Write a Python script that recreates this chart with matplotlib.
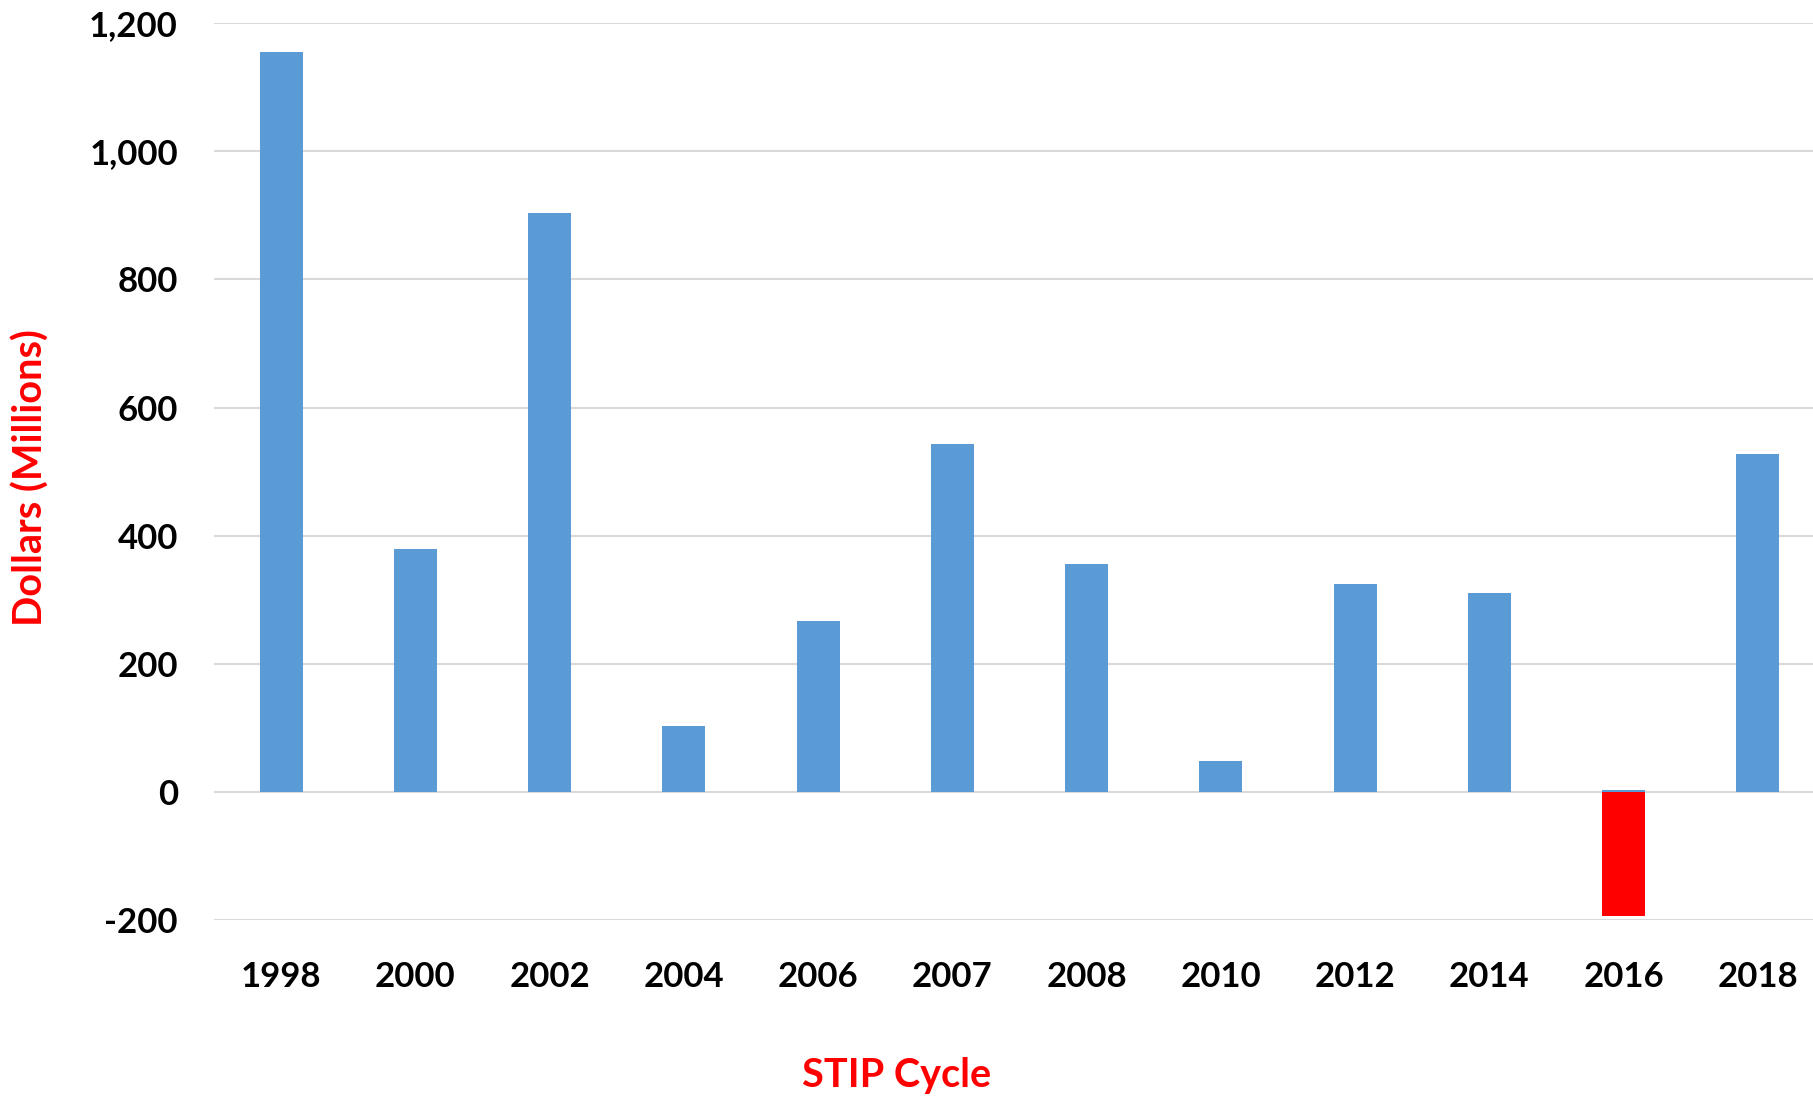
import numpy as np
import matplotlib.pyplot as plt
from matplotlib.ticker import FuncFormatter

# STIP cycle values, millions of dollars
cycles = ['1998', '2000', '2002', '2004', '2006', '2007',
          '2008', '2010', '2012', '2014', '2016', '2018']
positive = [1155, 379, 904, 103, 267, 543, 356, 49, 325, 310, 3, 527]
negative = [0, 0, 0, 0, 0, 0, 0, 0, 0, 0, -193, 0]

plt.rcParams['font.family'] = ['Lato', 'DejaVu Sans']

fig = plt.figure(figsize=(18.13, 10.97), dpi=100)
ax = fig.add_axes([214 / 1813, 0.161, (1825 - 214) / 1813, 0.979 - 0.161])

x = np.arange(len(cycles))
ax.bar(x, positive, width=0.32, color='#5B9BD5', zorder=3)
neg_mask = np.array(negative) < 0
ax.bar(x[neg_mask], np.array(negative)[neg_mask], width=0.32, color='#FF0000', zorder=3)

ax.set_xlim(-0.5, len(cycles) - 0.5)
ax.set_ylim(-200, 1200)
ax.set_yticks(range(-200, 1201, 200))
ax.yaxis.set_major_formatter(FuncFormatter(lambda v, p: f'{int(v):,}'))
ax.set_xticks(x)
ax.set_xticklabels(cycles)

ax.grid(axis='y', color='#D9D9D9', linewidth=1.5, zorder=0)
for s in ax.spines.values():
    s.set_visible(False)
ax.tick_params(length=0, labelsize=25)
ax.tick_params(axis='y', pad=26)
ax.tick_params(axis='x', pad=29)
for lab in ax.get_xticklabels() + ax.get_yticklabels():
    lab.set_fontweight('bold')

fig.text(31 / 1813, 1 - 478 / 1097, 'Dollars (Millions)', rotation=90, color='#FF0000',
         fontsize=28.5, fontweight='bold', ha='center', va='center')
fig.text(897 / 1813, 1 - 1075 / 1097, 'STIP Cycle', color='#FF0000',
         fontsize=28.5, fontweight='bold', ha='center', va='center')

fig.savefig('out.png', dpi=100)
